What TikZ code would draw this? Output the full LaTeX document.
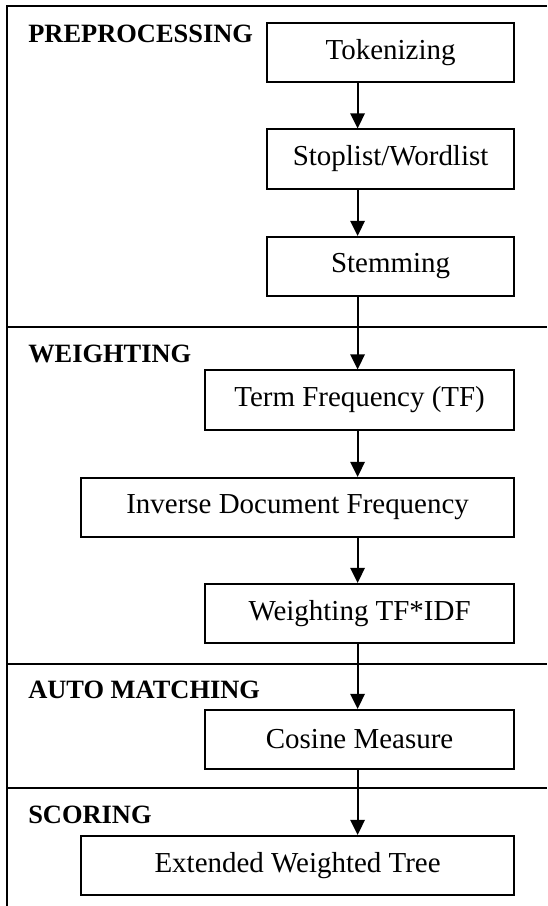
\documentclass[tikz,border=0pt]{standalone}
\usepackage{fontspec}
\setmainfont{Liberation Serif}
\usetikzlibrary{arrows.meta}
\begin{document}
\begin{tikzpicture}[
  block/.style={rectangle, draw, line width=1.3pt, minimum height=1.48cm, inner sep=0pt, anchor=east, font=\fontsize{20.6}{24}\selectfont},
  stage/.style={anchor=base west, inner sep=0pt, font=\bfseries\fontsize{18.8}{22}\selectfont},
  frame/.style={line width=1.4pt},
  flow/.style={->, line width=1.4pt},
  >={Triangle[length=0.38cm,width=0.36cm]}
]
\useasboundingbox (0,0) rectangle (13.675,22.65);

% Frame and section dividers
\draw[frame] (13.675,22.5) -- (0.175,22.5) -- (0.175,0);
\foreach \y in {14.475,6.05,2.95}
  \draw[frame] (0.175,\y) -- (13.675,\y);

% Section labels
\node[stage] (pre) at (0.7,21.575) {PREPROCESSING};
\node[stage] (wgt) at (0.7,13.575) {WEIGHTING};
\node[stage] (match) at (0.7,5.175) {AUTO MATCHING};
\node[stage] (score) at (0.7,2.05) {SCORING};

% Preprocessing
\node[block, minimum width=6.175cm] (tok) at (12.875,21.3375) {Tokenizing};
\node[block, minimum width=6.175cm] (stop) at (12.875,18.675) {Stoplist/Wordlist};
\node[block, minimum width=6.175cm] (stem) at (12.875,15.9875) {Stemming};

% Weighting
\node[block, minimum width=7.725cm] (tf) at (12.875,12.65) {Term Frequency (TF)};
\node[block, minimum width=10.825cm] (idf) at (12.875,9.9625) {Inverse Document Frequency};
\node[block, minimum width=7.725cm] (tfidf) at (12.875,7.3125) {Weighting TF*IDF};

% Matching and scoring
\node[block, minimum width=7.725cm] (cos) at (12.875,4.1625) {Cosine Measure};
\node[block, minimum width=10.825cm] (tree) at (12.875,1.0125) {Extended Weighted Tree};

% Arrows
\coordinate (axis) at (8.94,0);
\foreach \a/\b in {tok/stop, stop/stem, stem/tf, tf/idf, idf/tfidf, tfidf/cos, cos/tree}
  \draw[flow] (\a.south -| axis) -- (\b.north -| axis);

\end{tikzpicture}
\end{document}
